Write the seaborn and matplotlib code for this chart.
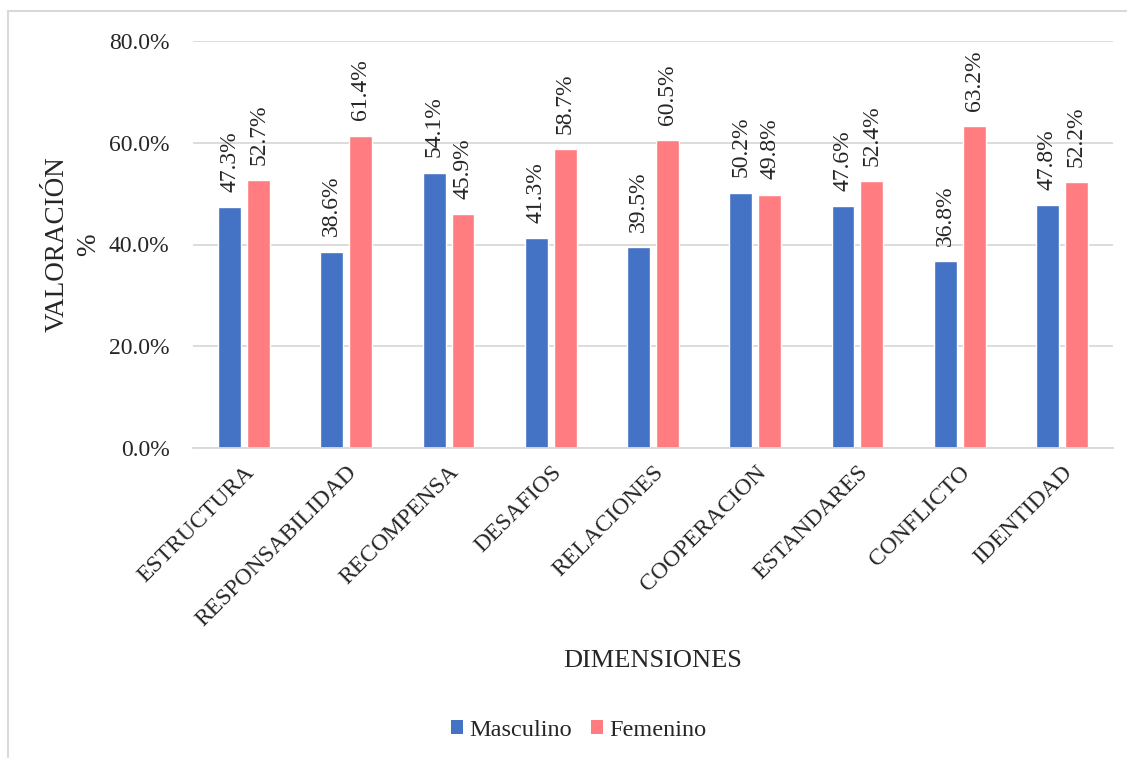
import matplotlib
matplotlib.use("Agg")
import matplotlib.pyplot as plt
from matplotlib.lines import Line2D
from matplotlib.patches import Patch
import seaborn as sns
import pandas as pd

categories = ["ESTRUCTURA", "RESPONSABILIDAD", "RECOMPENSA", "DESAFIOS", "RELACIONES",
              "COOPERACION", "ESTANDARES", "CONFLICTO", "IDENTIDAD"]
masculino = [0.473, 0.386, 0.541, 0.413, 0.395, 0.502, 0.476, 0.368, 0.478]
femenino = [0.527, 0.614, 0.459, 0.587, 0.605, 0.498, 0.524, 0.632, 0.522]
series = ["Masculino", "Femenino"]
colors = ["#4472C4", "#FF7C80"]
yticks = [0.0, 0.2, 0.4, 0.6, 0.8]

df = pd.DataFrame({
    "Dimension": categories * 2,
    "Valor": masculino + femenino,
    "Sexo": [series[0]] * len(categories) + [series[1]] * len(categories),
})

sns.set_theme(style="white")
plt.rcParams["font.family"] = ["Liberation Serif", "DejaVu Serif"]

fig = plt.figure(figsize=(11.28, 7.59), dpi=100)
ax = fig.add_axes([193 / 1128, 1 - 448 / 759, (1113 - 193) / 1128, (448 - 41) / 759])

sns.barplot(data=df, x="Dimension", y="Valor", hue="Sexo", palette=colors,
            width=0.567, gap=0.21, ax=ax, legend=False, saturation=1)

ax.set_ylim(0, 0.8)
ax.set_yticks(yticks)
ax.set_yticklabels([f"{v:.1%}" for v in yticks], fontsize=17)
ax.yaxis.grid(True, color="#d9d9d9", linewidth=1.3)
ax.set_axisbelow(True)
for s in ["top", "right", "left"]:
    ax.spines[s].set_visible(False)
ax.spines["bottom"].set_color("#d9d9d9")
ax.spines["bottom"].set_linewidth(1.3)
ax.tick_params(axis="y", length=0, pad=17)
ax.tick_params(axis="x", length=0, pad=10)

ax.set_xticks(range(len(categories)))
ax.set_xticklabels(categories, rotation=45, ha="right", rotation_mode="anchor", fontsize=17)

for cont in ax.containers:
    ax.bar_label(cont, labels=[f"{b.get_height():.1%}" for b in cont], rotation=90,
                 padding=11, fontsize=17)

ax.set_xlabel("DIMENSIONES", fontsize=19)
ax.xaxis.set_label_coords(0.5, (448 - 661) / 407)
ax.xaxis.label.set_va("center")
ax.set_ylabel("VALORACIÓN\n%", fontsize=19.5, linespacing=1.35)
ax.yaxis.set_label_coords((73 - 193) / 920, 0.5)
ax.yaxis.label.set_va("center")
ax.yaxis.label.set_ha("center")

handles = [Patch(facecolor=c, edgecolor="none") for c in colors]
fig.legend(handles, series, loc="center", bbox_to_anchor=(0.513, 0.038), ncol=2,
           frameon=False, fontsize=17.5, handlelength=0.5, handleheight=0.5,
           handletextpad=0.25, columnspacing=0.8)

fig.add_artist(Line2D([8 / 1128, 8 / 1128], [1 - 11 / 759, 1 - 757 / 759],
                      transform=fig.transFigure, color="#d9d9d9", linewidth=1.5))
fig.add_artist(Line2D([8 / 1128, 1126 / 1128], [1 - 11 / 759, 1 - 11 / 759],
                      transform=fig.transFigure, color="#d9d9d9", linewidth=1.5))

fig.savefig("out.png", dpi=100)
